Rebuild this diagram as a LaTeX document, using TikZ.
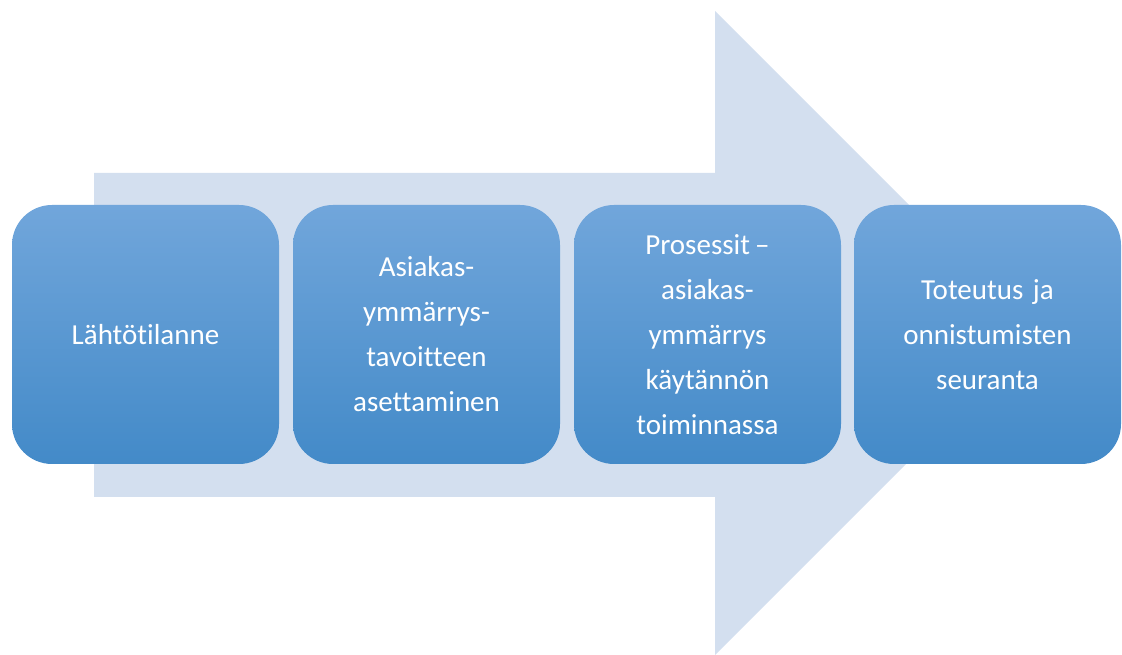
\documentclass[tikz,border=0pt]{standalone}
\usepackage{fontspec}
\setmainfont[Ligatures=CommonOff]{Carlito}
\definecolor{arrowfill}{RGB}{211,223,239}
\definecolor{boxtop}{RGB}{113,166,219}
\definecolor{boxbot}{RGB}{67,138,200}
\tikzset{
  stepbox/.style={draw=none, rounded corners=40pt, top color=boxtop, bottom color=boxbot,
    minimum width=267pt, minimum height=259pt, inner sep=0pt, text=white,
    align=center, font=\fontsize{29pt}{45pt}\selectfont, text width=250pt},
}
\begin{document}
\begin{tikzpicture}[x=1pt,y=1pt]
\useasboundingbox (0,0) rectangle (1122,655);
% big arrow
\fill[arrowfill] (94,655-173) -- (715,655-173) -- (715,655-11) -- (1037,655-333)
  -- (715,0) -- (715,655-497) -- (94,655-497) -- cycle;
% boxes
\node[stepbox] (b1) at (145.5,655-334.5) {Lähtötilanne};
\node[stepbox] (b2) at (426.5,655-334.5) {Asiakas-\\ymmärrys-\\tavoitteen\\asettaminen};
\node[stepbox] (b3) at (707.5,655-334.5) {Prosessit\hspace{0.18em}–\\asiakas-\\ymmärrys\\käytännön\\toiminnassa};
\node[stepbox] (b4) at (987.5,655-334.5) {Toteutus ja\\onnistumisten\\seuranta};
\end{tikzpicture}
\end{document}
